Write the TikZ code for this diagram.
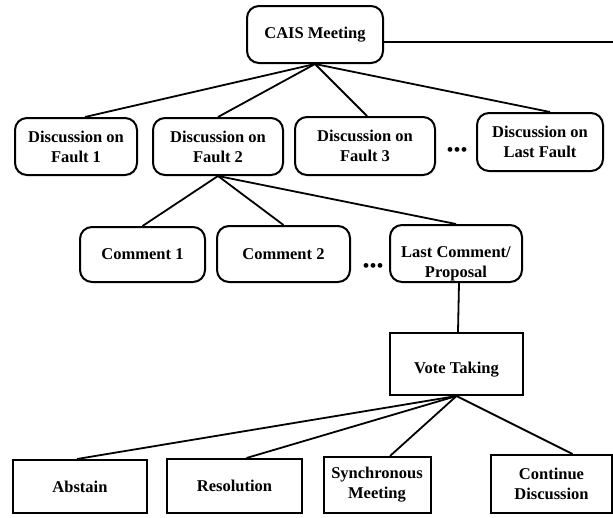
\documentclass[tikz,border=0pt]{standalone}
\usepackage{fontspec}
\setmainfont{Liberation Serif}
\usetikzlibrary{calc}
\begin{document}
\begin{tikzpicture}[x=1pt,y=-1pt,
  lbl/.style={font=\fontsize{16.5}{20}\selectfont\bfseries, align=center},
  rbox/.style={draw, line width=2pt, rounded corners=12pt, inner sep=0pt, lbl},
  sbox/.style={draw, line width=2pt, inner sep=0pt, lbl},
  link/.style={line width=1.8pt},
  dotsmark/.style={font=\fontsize{20}{20}\selectfont, inner sep=0pt}]
\useasboundingbox (0,0) rectangle (613,517);
% top
\node[rbox, minimum width=136pt, minimum height=57pt] (cais) at (315,34.5) {CAIS Meeting};
\coordinate (redge) at (613,42);
% faults
\node[rbox, minimum width=122pt, minimum height=57pt] (f1) at (76,146.5) {Discussion on\\Fault 1};
\node[rbox, minimum width=130pt, minimum height=57pt] (f2) at (218,146.5) {Discussion on\\Fault 2};
\node[rbox, minimum width=140pt, minimum height=58pt] (f3) at (365,146) {Discussion on\\Fault 3};
\node[dotsmark] (d1) at (457,152) {•••};
\node[rbox, minimum width=126pt, minimum height=58pt] (f4) at (540,142) {Discussion on\\Last Fault};
% comments
\node[rbox, minimum width=125pt, minimum height=55pt] (c1) at (142.5,254.5) {Comment 1};
\node[rbox, minimum width=133pt, minimum height=56pt] (c2) at (283.5,254) {Comment 2};
\node[dotsmark] (d2) at (373,268) {•••};
\node[rbox, minimum width=132pt, minimum height=57pt] (lc) at (456,253.5) {};
\node[lbl, inner sep=0pt] (lct) at (456,265) {Last Comment/\\\underline{Proposal}};
% vote
\node[sbox, minimum width=133pt, minimum height=62pt] (vote) at (456.5,364) {};
\node[lbl, inner sep=0pt] (votet) at (456.5,370) {Vote Taking};
% outcomes
\node[sbox, minimum width=134pt, minimum height=53pt] (ab) at (80,486.5) {Abstain};
\node[sbox, minimum width=135pt, minimum height=54pt] (res) at (234.5,486) {Resolution};
\node[sbox, minimum width=107pt, minimum height=56pt] (syn) at (377,485) {Synchronous\\Meeting};
\node[sbox, minimum width=121pt, minimum height=58pt] (con) at (551.5,484) {Continue\\Discussion};
% links
\draw[link] (cais.east |- redge) -- (redge);
\draw[link] (cais.south) -- ([xshift=9pt]f1.north);
\draw[link] (cais.south) -- (f2.north);
\draw[link] (cais.south) -- ([xshift=2pt]f3.north);
\draw[link] (cais.south) -- ([xshift=10pt]f4.north);
\draw[link] (f2.south) -- (c1.north);
\draw[link] (f2.south) -- (c2.north);
\draw[link] (f2.south) -- (lc.north);
\draw[link] ([xshift=3pt]lc.south) -- ([xshift=1.5pt]vote.north);
\draw[link] (vote.south) -- ([xshift=-3pt]ab.north);
\draw[link] (vote.south) -- ([xshift=12pt]res.north);
\draw[link] (vote.south) -- ([xshift=13pt]syn.north);
\draw[link] (vote.south) -- ([xshift=21pt]con.north);
\end{tikzpicture}
\end{document}
